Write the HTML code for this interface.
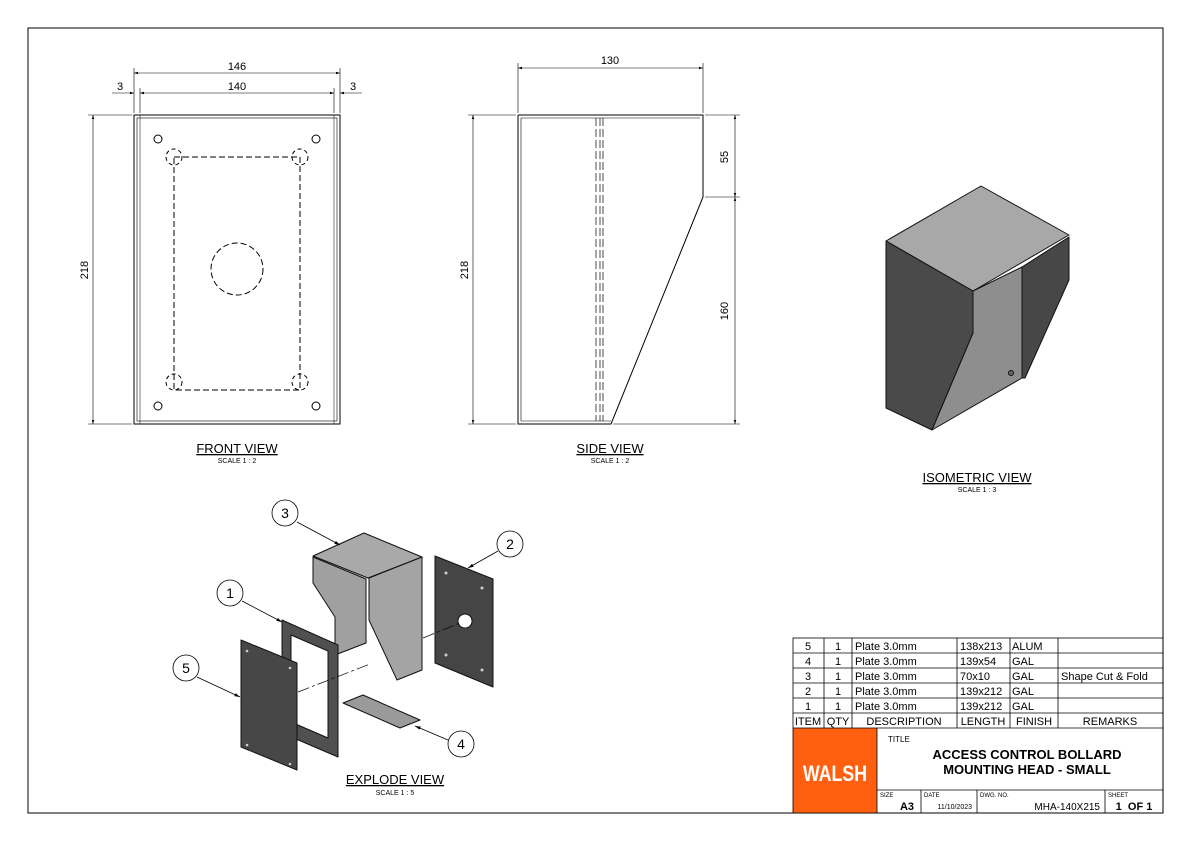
<!DOCTYPE html>
<html><head><meta charset="utf-8"><style>
html,body{margin:0;padding:0;background:#fff}
svg{display:block;font-family:"Liberation Sans",Arial,sans-serif}
</style></head><body>
<svg width="1191" height="842" viewBox="0 0 1191 842" xmlns="http://www.w3.org/2000/svg">
<defs>
<marker id="ar" viewBox="0 0 10 10" refX="10" refY="5" markerWidth="7" markerHeight="7" orient="auto-start-reverse"><path d="M0,2 L10,5 L0,8 z" fill="#000"/></marker>
</defs>
<rect x="28" y="28" width="1135" height="785" fill="none" stroke="#000" stroke-width="1"/>

<!-- FRONT VIEW -->
<g stroke="#000" fill="none" stroke-width="1">
<rect x="134" y="115" width="206" height="309"/>
<rect x="137" y="118" width="200" height="303" stroke-width="0.6"/>
<line x1="140" y1="115" x2="140" y2="424" stroke-width="0.5"/>
<line x1="334" y1="115" x2="334" y2="424" stroke-width="0.5"/>
<rect x="174" y="157" width="126" height="233" stroke-dasharray="6,3"/>
<circle cx="237" cy="269" r="26" stroke-dasharray="6,3"/>
<circle cx="174" cy="157" r="8" stroke-dasharray="4,3"/>
<circle cx="300" cy="157" r="8" stroke-dasharray="4,3"/>
<circle cx="174" cy="382" r="8" stroke-dasharray="4,3"/>
<circle cx="300" cy="382" r="8" stroke-dasharray="4,3"/>
<circle cx="158" cy="139" r="4"/><circle cx="316" cy="139" r="4"/>
<circle cx="158" cy="406" r="4"/><circle cx="316" cy="406" r="4"/>
<line x1="134" y1="113" x2="134" y2="68" stroke-width="0.6"/>
<line x1="340" y1="113" x2="340" y2="68" stroke-width="0.6"/>
<line x1="140" y1="113" x2="140" y2="88" stroke-width="0.6"/>
<line x1="334" y1="113" x2="334" y2="88" stroke-width="0.6"/>
<line x1="134" y1="73" x2="340" y2="73" stroke-width="0.6" marker-start="url(#ar)" marker-end="url(#ar)"/>
<line x1="140" y1="93" x2="334" y2="93" stroke-width="0.6" marker-start="url(#ar)" marker-end="url(#ar)"/>
<line x1="112" y1="93" x2="134" y2="93" stroke-width="0.6" marker-end="url(#ar)"/>
<line x1="362" y1="93" x2="340" y2="93" stroke-width="0.6" marker-end="url(#ar)"/>
<line x1="132" y1="115" x2="88" y2="115" stroke-width="0.6"/>
<line x1="132" y1="424" x2="88" y2="424" stroke-width="0.6"/>
<line x1="93" y1="115" x2="93" y2="424" stroke-width="0.6" marker-start="url(#ar)" marker-end="url(#ar)"/>
</g>
<g font-size="11" text-anchor="middle">
<text x="237" y="70">146</text><text x="237" y="90">140</text>
<text x="120" y="90">3</text><text x="353" y="90">3</text>
<text x="88" y="270" transform="rotate(-90 88 270)">218</text>
<text x="237" y="453" font-size="13" text-decoration="underline">FRONT VIEW</text>
<text x="237" y="463" font-size="7">SCALE 1 : 2</text>
</g>

<!-- SIDE VIEW -->
<g stroke="#000" fill="none" stroke-width="1">
<polyline points="518,115 703,115 703,197 611,424 518,424 518,115"/>
<line x1="521" y1="118" x2="700" y2="118" stroke-width="0.6"/>
<line x1="521" y1="118" x2="521" y2="421" stroke-width="0.6"/>
<line x1="521" y1="421" x2="611" y2="421" stroke-width="0.6"/>
<line x1="596" y1="118" x2="596" y2="421" stroke-dasharray="8,3" stroke-width="0.7"/>
<line x1="600" y1="118" x2="600" y2="421" stroke-dasharray="8,3" stroke-width="0.7"/>
<line x1="603" y1="118" x2="603" y2="421" stroke-dasharray="8,3" stroke-width="0.7"/>
<line x1="518" y1="113" x2="518" y2="63" stroke-width="0.6"/>
<line x1="703" y1="113" x2="703" y2="63" stroke-width="0.6"/>
<line x1="518" y1="68" x2="703" y2="68" stroke-width="0.6" marker-start="url(#ar)" marker-end="url(#ar)"/>
<line x1="516" y1="115" x2="468" y2="115" stroke-width="0.6"/>
<line x1="516" y1="424" x2="468" y2="424" stroke-width="0.6"/>
<line x1="473" y1="115" x2="473" y2="424" stroke-width="0.6" marker-start="url(#ar)" marker-end="url(#ar)"/>
<line x1="705" y1="115" x2="740" y2="115" stroke-width="0.6"/>
<line x1="705" y1="197" x2="740" y2="197" stroke-width="0.6"/>
<line x1="613" y1="424" x2="740" y2="424" stroke-width="0.6"/>
<line x1="735" y1="115" x2="735" y2="197" stroke-width="0.6" marker-start="url(#ar)" marker-end="url(#ar)"/>
<line x1="735" y1="197" x2="735" y2="424" stroke-width="0.6" marker-start="url(#ar)" marker-end="url(#ar)"/>
</g>
<g font-size="11" text-anchor="middle">
<text x="610" y="64">130</text>
<text x="468" y="270" transform="rotate(-90 468 270)">218</text>
<text x="728" y="157" transform="rotate(-90 728 157)">55</text>
<text x="728" y="311" transform="rotate(-90 728 311)">160</text>
<text x="610" y="453" font-size="13" text-decoration="underline">SIDE VIEW</text>
<text x="610" y="463" font-size="7">SCALE 1 : 2</text>
</g>

<!-- ISOMETRIC -->
<g stroke="#111" stroke-width="1" stroke-linejoin="round">
<polygon points="886,241 981,186 1069,235 973,291" fill="#a8a8a8"/>
<polygon points="886,241 973,291 973,333 932,430 886,408" fill="#4a4a4a"/>
<polygon points="973,291 1022,267 1022,378 932,430 973,333" fill="#8e8e8e"/>
<polygon points="1022,267 1069,237 1069,280 1025,378 1022,378" fill="#474747"/>
<circle cx="1011" cy="373" r="2.5" fill="#666"/>
</g>
<g text-anchor="middle">
<text x="977" y="482" font-size="13" text-decoration="underline">ISOMETRIC VIEW</text>
<text x="977" y="492" font-size="7">SCALE 1 : 3</text>
</g>

<!-- EXPLODE -->
<g stroke="#111" stroke-width="1" stroke-linejoin="round">
<polygon points="313,556 364,533 422,557 368,578" fill="#a9a9a9"/>
<polygon points="313,557 366,579 366,643 335,655 335,617 313,583" fill="#a0a0a0"/>
<polygon points="369,578 422,557 422,670 397,680 369,620" fill="#a4a4a4"/>
<polygon points="435,556 493,579 493,687 435,663" fill="#454545"/>
<circle cx="465" cy="621" r="7" fill="#fff"/>
<polygon points="282,620 338,645 338,757 282,733" fill="#505050"/>
<polygon points="291,635 328,651 328,738 291,722" fill="#fff"/>
<polygon points="241,640 297,663 297,770 241,747" fill="#474747"/>
<polygon points="343,703 363,695 420,720 400,728" fill="#9a9a9a"/>
</g>
<g fill="#ccc">
<circle cx="446" cy="573" r="1.5"/><circle cx="482" cy="588" r="1.5"/><circle cx="446" cy="655" r="1.5"/><circle cx="482" cy="670" r="1.5"/>
<circle cx="247" cy="651" r="1.3"/><circle cx="290" cy="668" r="1.3"/><circle cx="247" cy="745" r="1.3"/><circle cx="290" cy="764" r="1.3"/>
</g>
<g stroke="#000" stroke-width="0.7" fill="none" stroke-dasharray="12,3,3,3">
<line x1="423" y1="638" x2="460" y2="623"/>
<line x1="298" y1="692" x2="370" y2="664"/>
</g>
<g stroke="#000" stroke-width="0.8" fill="#fff">
<line x1="297" y1="522" x2="340" y2="545" marker-end="url(#ar)"/>
<line x1="242" y1="601" x2="282" y2="622" marker-end="url(#ar)"/>
<line x1="197" y1="677" x2="240" y2="697" marker-end="url(#ar)"/>
<line x1="498" y1="551" x2="468" y2="568" marker-end="url(#ar)"/>
<line x1="448" y1="740" x2="415" y2="726" marker-end="url(#ar)"/>
<circle cx="285" cy="513" r="13"/><circle cx="230" cy="593" r="13"/><circle cx="186" cy="668" r="13"/>
<circle cx="510" cy="544" r="13"/><circle cx="461" cy="744" r="13"/>
</g>
<g font-size="14" text-anchor="middle">
<text x="285" y="518">3</text><text x="230" y="598">1</text><text x="186" y="673">5</text>
<text x="510" y="549">2</text><text x="461" y="749">4</text>
<text x="395" y="784" font-size="13" text-decoration="underline">EXPLODE VIEW</text>
<text x="395" y="795" font-size="7">SCALE 1 : 5</text>
</g>

<!-- TITLE BLOCK -->
<rect x="793" y="728" width="84" height="85" fill="#ff6010"/>
<g stroke="#000" stroke-width="0.8" fill="none">
<rect x="793" y="638" width="370" height="175"/>
<line x1="793" y1="653" x2="1163" y2="653"/><line x1="793" y1="668" x2="1163" y2="668"/>
<line x1="793" y1="683" x2="1163" y2="683"/><line x1="793" y1="698" x2="1163" y2="698"/>
<line x1="793" y1="713" x2="1163" y2="713"/><line x1="793" y1="728" x2="1163" y2="728"/>
<line x1="824" y1="638" x2="824" y2="728"/><line x1="852" y1="638" x2="852" y2="728"/>
<line x1="957" y1="638" x2="957" y2="728"/><line x1="1010" y1="638" x2="1010" y2="728"/>
<line x1="1058" y1="638" x2="1058" y2="728"/>
<line x1="877" y1="728" x2="877" y2="813"/>
<line x1="877" y1="790" x2="1163" y2="790"/>
<line x1="921" y1="790" x2="921" y2="813"/><line x1="977" y1="790" x2="977" y2="813"/>
<line x1="1105" y1="790" x2="1105" y2="813"/>
</g>
<g font-size="11">
<g text-anchor="middle">
<text x="808" y="650">5</text><text x="838" y="650">1</text>
<text x="808" y="665">4</text><text x="838" y="665">1</text>
<text x="808" y="680">3</text><text x="838" y="680">1</text>
<text x="808" y="695">2</text><text x="838" y="695">1</text>
<text x="808" y="710">1</text><text x="838" y="710">1</text>
<text x="808" y="725">ITEM</text><text x="838" y="725">QTY</text>
<text x="904" y="725">DESCRIPTION</text><text x="983" y="725">LENGTH</text>
<text x="1034" y="725">FINISH</text><text x="1110" y="725">REMARKS</text>
</g>
<text x="855" y="650">Plate 3.0mm</text><text x="960" y="650">138x213</text><text x="1012" y="650">ALUM</text>
<text x="855" y="665">Plate 3.0mm</text><text x="960" y="665">139x54</text><text x="1012" y="665">GAL</text>
<text x="855" y="680">Plate 3.0mm</text><text x="960" y="680">70x10</text><text x="1012" y="680">GAL</text><text x="1061" y="680">Shape Cut &amp; Fold</text>
<text x="855" y="695">Plate 3.0mm</text><text x="960" y="695">139x212</text><text x="1012" y="695">GAL</text>
<text x="855" y="710">Plate 3.0mm</text><text x="960" y="710">139x212</text><text x="1012" y="710">GAL</text>
</g>
<text x="803" y="781" font-size="22" font-weight="bold" fill="#fff" textLength="64" lengthAdjust="spacingAndGlyphs">WALSH</text>
<text x="888" y="742" font-size="8">TITLE</text>
<g font-size="13" font-weight="bold" text-anchor="middle">
<text x="1027" y="759">ACCESS CONTROL BOLLARD</text>
<text x="1027" y="774">MOUNTING HEAD - SMALL</text>
</g>
<g font-size="6">
<text x="880" y="797">SIZE</text><text x="924" y="797">DATE</text><text x="980" y="797">DWG. NO.</text><text x="1108" y="797">SHEET</text>
</g>
<text x="914" y="810" font-size="11" font-weight="bold" text-anchor="end">A3</text>
<text x="972" y="809" font-size="7" text-anchor="end">11/10/2023</text>
<text x="1100" y="810" font-size="10" text-anchor="end">MHA-140X215</text>
<text x="1134" y="810" font-size="11" font-weight="bold" text-anchor="middle">1 &#160;OF 1</text>
</svg>
</body></html>
